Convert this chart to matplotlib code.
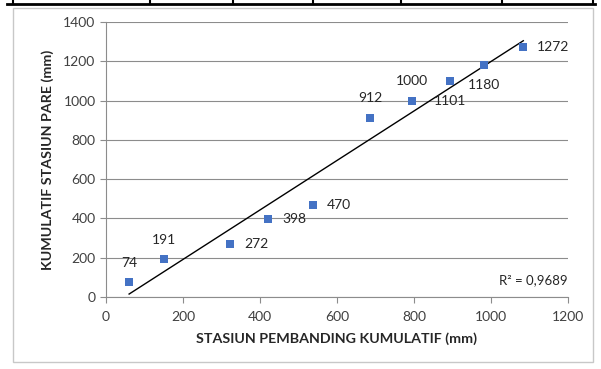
import numpy as np
import matplotlib
matplotlib.use('Agg')
from matplotlib import pyplot as plt
from matplotlib.lines import Line2D
from matplotlib.patches import Rectangle

plt.rcParams['font.family'] = ['Lato', 'DejaVu Sans']

# data
pembanding = [60, 151, 323, 422, 538, 686, 795, 894, 983, 1084]
pare = [74, 191, 272, 398, 470, 912, 1000, 1101, 1180, 1272]
labels = ['74', '191', '272', '398', '470', '912', '1000', '1101', '1180', '1272']
# where each label sits relative to its point
label_pos = ['above', 'above', 'right', 'right', 'right', 'above', 'above', 'below', 'below', 'right']
r2_text = 'R² = 0,9689'

fig = plt.figure(figsize=(6.01, 3.69), dpi=100)
ax = fig.add_axes([0.1764, 0.1951, 0.945 - 0.1764, 0.9404 - 0.1951])

# chart border + bit of the table above it
fig.patches.append(Rectangle((13 / 601, 1 - 362 / 369), 580 / 601, 354 / 369,
                             transform=fig.transFigure, fill=False, ec='#c8c8c8', lw=1))
fig.lines.append(Line2D([0.012, 0.99], [1 - 4 / 369] * 2, transform=fig.transFigure, color='black', lw=2))
for xv in [13, 150, 233, 313, 401, 502, 593]:
    fig.lines.append(Line2D([xv / 601] * 2, [1 - 4 / 369, 1.0], transform=fig.transFigure, color='black', lw=1.5))

ax.scatter(pembanding, pare, marker='s', s=30, color='#4472C4', zorder=3, linewidths=0)

# linear trendline
m, c = np.polyfit(pembanding, pare, 1)
xs = np.array([min(pembanding), max(pembanding)])
ax.plot(xs, m * xs + c, color='black', lw=1, zorder=2)

for xv, yv, lab, pos in zip(pembanding, pare, labels, label_pos):
    if pos == 'above':
        ax.annotate(lab, (xv, yv), xytext=(0, 10), textcoords='offset points', ha='center', va='bottom', fontsize=10, color='#262626')
    elif pos == 'below':
        ax.annotate(lab, (xv, yv), xytext=(0, -10), textcoords='offset points', ha='center', va='top', fontsize=10, color='#262626')
    else:
        ax.annotate(lab, (xv, yv), xytext=(10, 0), textcoords='offset points', ha='left', va='center', fontsize=10, color='#262626')

ax.text(1.0, 0.06, r2_text, transform=ax.transAxes, ha='right', va='center', fontsize=9.5, color='#262626')

ax.set_xlim(0, 1200)
ax.set_ylim(0, 1400)
ax.set_xticks(range(0, 1201, 200))
ax.set_yticks(range(0, 1401, 200))
ax.yaxis.grid(True, color='#8c8c8c', lw=0.8)
ax.set_axisbelow(True)
for s in ['top', 'right']:
    ax.spines[s].set_visible(False)
for s in ['left', 'bottom']:
    ax.spines[s].set_color('#8c8c8c')
ax.tick_params(colors='#8c8c8c', labelcolor='#404040', labelsize=10, length=4, width=0.8)
ax.tick_params(axis='x', pad=6)

ax.set_xlabel('STASIUN PEMBANDING KUMULATIF (mm)', fontsize=10.3, fontweight='bold', color='#262626', labelpad=7)
ax.set_ylabel('KUMULATIF STASIUN PARE (mm)', fontsize=10.3, fontweight='bold', color='#262626', labelpad=7)

fig.savefig('out.png', dpi=100)
